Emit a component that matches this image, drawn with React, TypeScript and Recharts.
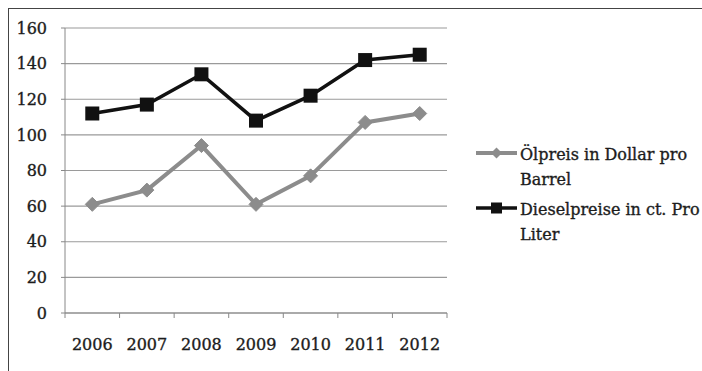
import React from 'react';
import { LineChart, Line, XAxis, YAxis, CartesianGrid, Legend } from 'recharts';

const years = ['2006', '2007', '2008', '2009', '2010', '2011', '2012'];
const oilPrice = [61, 69, 94, 61, 77, 107, 112];
const dieselPrice = [112, 117, 134, 108, 122, 142, 145];
const yTicks = [0, 20, 40, 60, 80, 100, 120, 140, 160];
const seriesNames = {
  oil: 'Ölpreis in Dollar pro Barrel',
  diesel: 'Dieselpreise in ct. Pro Liter',
};

const data = years.map((y, i) => ({ x: i + 0.5, year: y, oil: oilPrice[i], diesel: dieselPrice[i] }));
const xTicks: number[] = [];
for (let i = 0; i <= years.length; i++) {
  xTicks.push(i);
  if (i < years.length) xTicks.push(i + 0.5);
}

const FONT = '"DejaVu Serif", serif';
const TEXT = '#1c1c1c';
const OIL = '#8c8c8c';
const DIESEL = '#111';

const XTick = (props: any) => {
  const { x, y, payload } = props;
  const v = payload.value;
  if (Number.isInteger(v)) {
    return <line x1={x} x2={x} y1={y} y2={y + 5} stroke="#888" strokeWidth={1} />;
  }
  return (
    <text x={x} y={y + 37} textAnchor="middle" fill={TEXT} stroke={TEXT} strokeWidth={0.35} fontSize={16} fontFamily={FONT}>
      {years[Math.floor(v)]}
    </text>
  );
};

const YTick = (props: any) => {
  const { x, y, payload } = props;
  return (
    <text x={x} y={y} dy="0.355em" textAnchor="end" fill={TEXT} stroke={TEXT} strokeWidth={0.35} fontSize={16} fontFamily={FONT}>
      {payload.value}
    </text>
  );
};

const diamondDot = (props: any) => {
  const { cx, cy, index } = props;
  const r = 7;
  return (
    <polygon
      key={`d-${index}`}
      points={`${cx},${cy - r} ${cx + r},${cy} ${cx},${cy + r} ${cx - r},${cy}`}
      fill={OIL}
      stroke={OIL}
    />
  );
};

const squareDot = (props: any) => {
  const { cx, cy, index } = props;
  const s = 14;
  return <rect key={`s-${index}`} x={cx - s / 2} y={cy - s / 2} width={s} height={s} fill={DIESEL} />;
};

const LegendContent = (props: any) => {
  const { payload } = props;
  const items = [...(payload || [])].sort((a: any) => (a.dataKey === 'oil' ? -1 : 1));
  return (
    <div style={{ fontFamily: FONT, fontSize: 16, color: TEXT, WebkitTextStroke: '0.35px #1c1c1c' } as any}>
      {items.map((entry: any) => {
        const words = String(entry.value).split(' ');
        const last = words.pop();
        const isOil = entry.dataKey === 'oil';
        const col = isOil ? OIL : DIESEL;
        return (
          <div key={entry.dataKey} style={{ display: 'flex', alignItems: 'flex-start', marginBottom: 5 }}>
            <svg width={44} height={25} style={{ flex: 'none' }}>
              <line x1={0} x2={41} y1={11} y2={11} stroke={col} strokeWidth={isOil ? 4 : 3.5} />
              {isOil ? (
                <polygon points="20.5,5.5 26,11 20.5,16.5 15,11" fill={col} />
              ) : (
                <rect x={15} y={5.5} width={11} height={11} fill={col} />
              )}
            </svg>
            <div style={{ lineHeight: '25px', whiteSpace: 'nowrap' }}>
              <div>{words.join(' ')}</div>
              <div>{last}</div>
            </div>
          </div>
        );
      })}
    </div>
  );
};

export default function App() {
  return (
    <div style={{ position: 'absolute', left: 0, top: 0, width: 702, height: 371, background: '#fff' }}>
      <div style={{ position: 'absolute', left: 8, top: 8, right: 0, height: 0, borderTop: '1.5px solid #444' }} />
      <div style={{ position: 'absolute', left: 8, top: 8, bottom: 0, width: 0, borderLeft: '1.5px solid #444' }} />
      <LineChart
        width={702}
        height={371}
        data={data}
        margin={{ top: 28, right: 255, left: 8, bottom: 0 }}
      >
        <CartesianGrid vertical={false} stroke="#9a9a9a" strokeWidth={1.2} />
        <XAxis
          dataKey="x"
          type="number"
          domain={[0, years.length]}
          ticks={xTicks}
          interval={0}
          tick={<XTick />}
          tickLine={false}
          tickSize={0}
          tickMargin={0}
          height={58}
          axisLine={{ stroke: '#888' }}
        />
        <YAxis
          type="number"
          domain={[0, 160]}
          ticks={yTicks}
          interval={0}
          width={57}
          tickSize={4}
          tickMargin={14}
          axisLine={{ stroke: '#888' }}
          tickLine={{ stroke: '#888' }}
          tick={<YTick />}
        />
        <Legend
          layout="vertical"
          align="center"
          verticalAlign="middle"
          content={<LegendContent />}
          wrapperStyle={{ left: 476, top: 142, width: 226 }}
        />
        <Line
          dataKey="oil"
          name={seriesNames.oil}
          stroke={OIL}
          strokeWidth={4}
          dot={diamondDot}
          activeDot={false}
          isAnimationActive={false}
        />
        <Line
          dataKey="diesel"
          name={seriesNames.diesel}
          stroke={DIESEL}
          strokeWidth={3.5}
          dot={squareDot}
          activeDot={false}
          isAnimationActive={false}
        />
      </LineChart>
    </div>
  );
}
